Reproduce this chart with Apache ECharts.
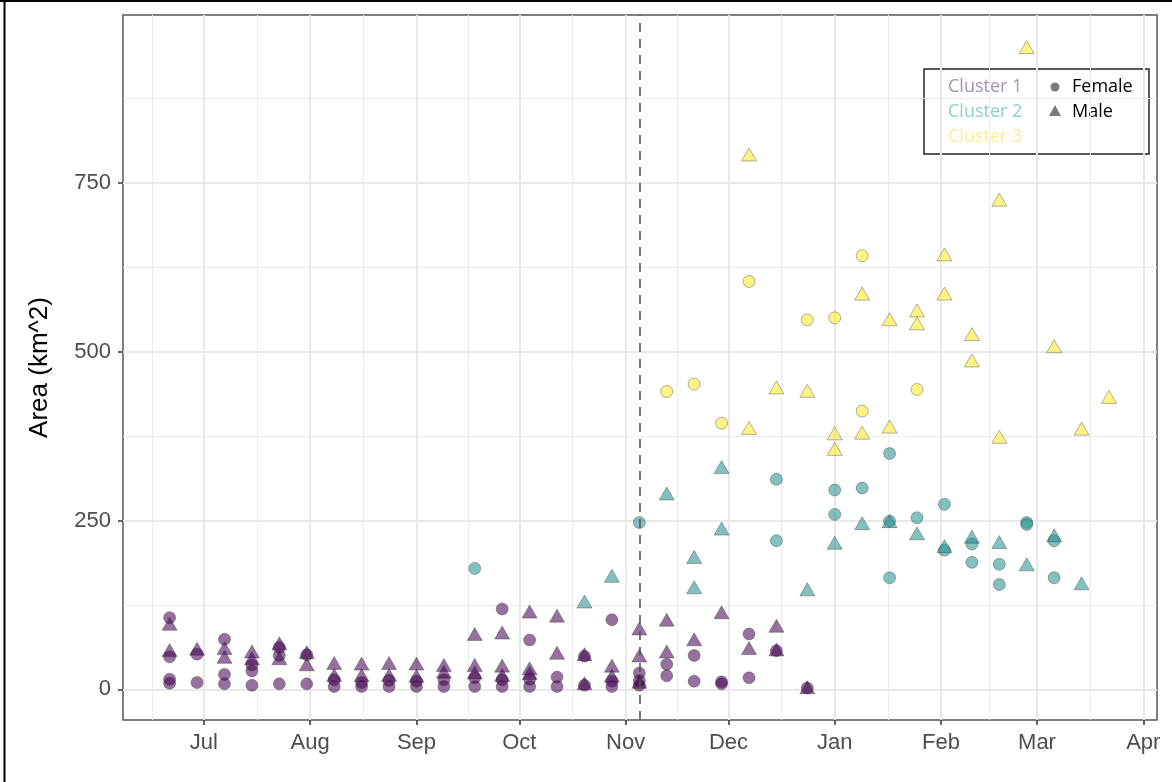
<!DOCTYPE html>
<html lang="en">
<head>
    <meta charset="UTF-8">
    <title>Area by cluster</title>
    <script src="https://cdn.jsdelivr.net/npm/echarts@6.0.0/dist/echarts.min.js"></script>
    <style>
        html, body { margin: 0; padding: 0; background: #fff; }
        #main { width: 1172px; height: 782px; }
    </style>
</head>
<body>
<div id="main"></div>
<script>
    // axis breaks
    var monthStarts = ['2018-06-01', '2018-07-01', '2018-08-01', '2018-09-01', '2018-10-01', '2018-11-01',
                       '2018-12-01', '2019-01-01', '2019-02-01', '2019-03-01', '2019-04-01'];
    var monthLabels = ['Jun', 'Jul', 'Aug', 'Sep', 'Oct', 'Nov', 'Dec', 'Jan', 'Feb', 'Mar', 'Apr'];
    var yTicks = [0, 250, 500, 750];
    var yMinor = [125, 375, 625, 875];
    var cutDate = '2018-11-05';

    // each row: date, then the areas seen on that date
    var c1Female = [
        ['2018-06-21', 106, 48, 15, 9], ['2018-06-29', 52, 10], ['2018-07-07', 74, 22, 8],
        ['2018-07-15', 36, 27, 6], ['2018-07-23', 62, 50, 8], ['2018-07-31', 51, 8],
        ['2018-08-08', 14, 4], ['2018-08-16', 10, 4], ['2018-08-24', 13, 4], ['2018-09-01', 12, 4],
        ['2018-09-09', 14, 4], ['2018-09-18', 17, 4], ['2018-09-26', 119, 14, 4], ['2018-10-04', 73, 15, 4],
        ['2018-10-12', 18, 4], ['2018-10-20', 49, 6], ['2018-10-28', 103, 12, 4], ['2018-11-05', 24, 13, 6],
        ['2018-11-13', 37, 20], ['2018-11-21', 50, 12], ['2018-11-29', 11, 8], ['2018-12-07', 82, 17],
        ['2018-12-15', 57], ['2018-12-24', 2]
    ];
    var c1Male = [
        ['2018-06-21', 97, 58], ['2018-06-29', 60], ['2018-07-07', 61, 48], ['2018-07-15', 56, 46],
        ['2018-07-23', 68, 46], ['2018-07-31', 55, 37], ['2018-08-08', 39, 21], ['2018-08-16', 38, 21],
        ['2018-08-24', 39, 21], ['2018-09-01', 38, 20], ['2018-09-09', 36, 26], ['2018-09-18', 82, 36, 25],
        ['2018-09-26', 84, 35, 21], ['2018-10-04', 115, 31, 24], ['2018-10-12', 109, 54], ['2018-10-20', 52, 9],
        ['2018-10-28', 35, 20], ['2018-11-05', 90, 50, 11], ['2018-11-13', 103, 56], ['2018-11-21', 74],
        ['2018-11-29', 114], ['2018-12-07', 61], ['2018-12-15', 94, 59], ['2018-12-24', 3]
    ];
    var c2Female = [
        ['2018-09-18', 179], ['2018-11-05', 247], ['2018-12-15', 311, 220], ['2019-01-01', 295, 259],
        ['2019-01-09', 298], ['2019-01-17', 349, 249, 165], ['2019-01-25', 254], ['2019-02-02', 274, 206],
        ['2019-02-10', 215, 188], ['2019-02-18', 185, 155], ['2019-02-26', 247, 244], ['2019-03-06', 220, 165]
    ];
    var c2Male = [
        ['2018-10-20', 130], ['2018-10-28', 168], ['2018-11-13', 290], ['2018-11-21', 196, 151],
        ['2018-11-29', 329, 238], ['2018-12-24', 148], ['2019-01-01', 217], ['2019-01-09', 246],
        ['2019-01-17', 249], ['2019-01-25', 231], ['2019-02-02', 212], ['2019-02-10', 226],
        ['2019-02-18', 218], ['2019-02-26', 185], ['2019-03-06', 228], ['2019-03-14', 157]
    ];
    var c3Female = [
        ['2018-11-13', 441], ['2018-11-21', 452], ['2018-11-29', 394], ['2018-12-07', 604],
        ['2018-12-24', 547], ['2019-01-01', 550], ['2019-01-09', 642, 412], ['2019-01-25', 444]
    ];
    var c3Male = [
        ['2018-12-07', 792, 387], ['2018-12-15', 447], ['2018-12-24', 442], ['2019-01-01', 379, 356],
        ['2019-01-09', 586, 380], ['2019-01-17', 548, 389], ['2019-01-25', 561, 542], ['2019-02-02', 644, 586],
        ['2019-02-10', 526, 487], ['2019-02-18', 725, 374], ['2019-02-26', 951], ['2019-03-06', 508],
        ['2019-03-14', 386], ['2019-03-22', 433]
    ];

    function toPoints(rows) {
        var out = [];
        rows.forEach(function (r) {
            var t = Date.parse(r[0]);
            for (var i = 1; i < r.length; i++) out.push([t, r[i]]);
        });
        return out;
    }

    var DAY = 86400000;
    var majorX = monthStarts.map(function (d) { return Date.parse(d); });
    var minorX = [];
    for (var i = 0; i < majorX.length - 1; i++) minorX.push((majorX[i] + majorX[i + 1]) / 2);
    var xMin = majorX[1] - 23.6 * DAY;
    var xMax = majorX[1] + 278 * DAY;

    var tickFont = { color: '#4d4d4d', fontSize: 22, fontFamily: 'Liberation Sans' };

    function scatter(name, rows, shape, fill) {
        return {
            name: name,
            type: 'scatter',
            data: toPoints(rows),
            symbol: shape,
            symbolSize: shape === 'circle' ? 12 : [15, 13],
            itemStyle: { color: fill, borderColor: 'rgba(40,40,40,0.55)', borderWidth: 0.8 }
        };
    }

    var chart = echarts.init(document.getElementById('main'));

    var series = [
        scatter('Cluster 1 Female', c1Female, 'circle', 'rgba(68,1,84,0.7)'),
        scatter('Cluster 1 Male', c1Male, 'triangle', 'rgba(68,1,84,0.7)'),
        scatter('Cluster 2 Female', c2Female, 'circle', 'rgba(33,144,140,0.7)'),
        scatter('Cluster 2 Male', c2Male, 'triangle', 'rgba(33,144,140,0.7)'),
        scatter('Cluster 3 Female', c3Female, 'circle', 'rgba(253,231,37,0.7)'),
        scatter('Cluster 3 Male', c3Male, 'triangle', 'rgba(253,231,37,0.7)')
    ];
    // dashed reference date
    series[0].markLine = {
        silent: true,
        symbol: 'none',
        animation: false,
        label: { show: false },
        lineStyle: { type: [9, 7], color: '#555', width: 1.6 },
        data: [{ xAxis: Date.parse(cutDate) }]
    };

    var legendX = 924, legendY = 69;
    var legendItems = [
        { type: 'rect', shape: { x: legendX, y: legendY, width: 225, height: 85 },
          style: { fill: '#fff', stroke: '#222', lineWidth: 1.5 } },
        { type: 'text', x: 948, y: 87, style: { text: 'Cluster 1', fill: '#a890b4', font: '18px "Open Sans"', verticalAlign: 'middle' } },
        { type: 'text', x: 948, y: 112, style: { text: 'Cluster 2', fill: '#8ccfc9', font: '18px "Open Sans"', verticalAlign: 'middle' } },
        { type: 'text', x: 948, y: 137, style: { text: 'Cluster 3', fill: '#f7ee98', font: '18px "Open Sans"', verticalAlign: 'middle' } },
        { type: 'circle', shape: { cx: 1055, cy: 87, r: 4.5 }, style: { fill: '#7a7a7a' } },
        { type: 'polygon', shape: { points: [[1055, 105], [1061, 116], [1049, 116]] }, style: { fill: '#7a7a7a' } },
        { type: 'text', x: 1072, y: 87, style: { text: 'Female', fill: '#000', font: '18px "Open Sans"', verticalAlign: 'middle' } },
        { type: 'text', x: 1072, y: 112, style: { text: 'Male', fill: '#000', font: '18px "Open Sans"', verticalAlign: 'middle' } }
    ];

    var option = {
        animation: false,
        backgroundColor: '#fff',
        grid: {
            left: 123, right: 15, top: 15, bottom: 62,
            show: true, borderColor: '#555', borderWidth: 1.5, backgroundColor: 'transparent'
        },
        xAxis: [{
            type: 'value', min: xMin, max: xMax, position: 'bottom',
            axisLine: { show: false, onZero: false },
            axisTick: { show: true, customValues: majorX, length: 5, lineStyle: { color: '#333', width: 1.5 } },
            axisLabel: {
                customValues: majorX, margin: 12,
                formatter: function (v) { return monthLabels[majorX.indexOf(v)]; },
                color: tickFont.color, fontSize: tickFont.fontSize, fontFamily: tickFont.fontFamily
            },
            splitLine: { show: true, lineStyle: { color: '#e8e8e8', width: 2 } }
        }, {
            type: 'value', min: xMin, max: xMax, position: 'top',
            axisLine: { show: false, onZero: false },
            axisTick: { show: false, customValues: minorX },
            axisLabel: { show: false, customValues: minorX },
            splitLine: { show: true, lineStyle: { color: '#ececec', width: 1 } }
        }],
        yAxis: [{
            type: 'value', min: -45.5, max: 998.5, position: 'left',
            name: 'Area (km^2)', nameLocation: 'middle', nameGap: 70, nameRotate: 90,
            nameTextStyle: { color: '#000', fontSize: 26, fontFamily: 'Liberation Sans' },
            axisLine: { show: false, onZero: false },
            axisTick: { show: true, customValues: yTicks, length: 5, lineStyle: { color: '#333', width: 1.5 } },
            axisLabel: {
                customValues: yTicks, margin: 12,
                color: tickFont.color, fontSize: tickFont.fontSize, fontFamily: tickFont.fontFamily
            },
            splitLine: { show: true, lineStyle: { color: '#e8e8e8', width: 2 } }
        }, {
            type: 'value', min: -45.5, max: 998.5, position: 'right',
            axisLine: { show: false, onZero: false },
            axisTick: { show: false, customValues: yMinor },
            axisLabel: { show: false, customValues: yMinor },
            splitLine: { show: true, lineStyle: { color: '#ececec', width: 1 } }
        }],
        series: series,
        graphic: [
            // frame of the original picture
            { type: 'line', shape: { x1: 0, y1: 1, x2: 1172, y2: 1 }, style: { stroke: '#000', lineWidth: 2 } },
            { type: 'line', shape: { x1: 4.5, y1: 0, x2: 4.5, y2: 782 }, style: { stroke: '#000', lineWidth: 2 } }
        ].concat(legendItems)
    };

    chart.setOption(option);
</script>
</body>
</html>
